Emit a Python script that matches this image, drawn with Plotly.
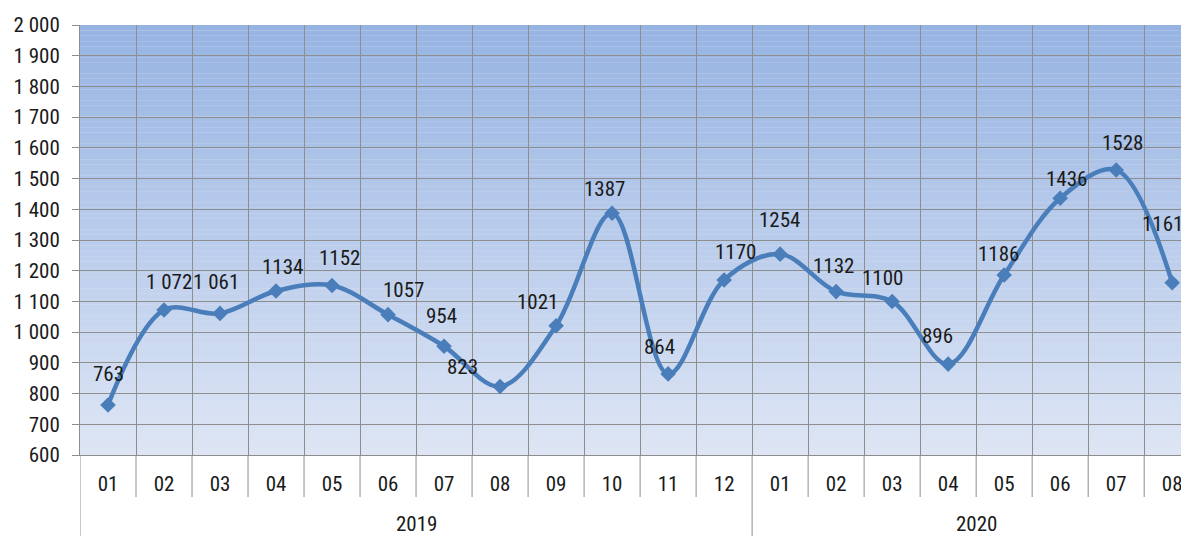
import plotly.graph_objects as go

# ---- data ----
years = ["2019"] * 12 + ["2020"] * 8
months = ["01", "02", "03", "04", "05", "06", "07", "08", "09", "10", "11", "12",
          "01", "02", "03", "04", "05", "06", "07", "08"]
values = [763, 1072, 1061, 1134, 1152, 1057, 954, 823, 1021, 1387, 864, 1170,
          1254, 1132, 1100, 896, 1186, 1436, 1528, 1161]
labels = ["763", "1 072", "1 061", "1134", "1152", "1057", "954", "823", "1021", "1387",
          "864", "1170", "1254", "1132", "1100", "896", "1186", "1436", "1528", "1161"]

# ---- label placement (style, pixel offsets) ----
label_dx = [0, 5, -4, 6, 7, 15, -3, -38, -19, -8, -9, 11, -1, -3, -10, -11, -6, 6, 6, -10]
label_dy = [31, 28, 31, 24, 27, 25, 30, 20, 24, 24, 27, 28, 34, 26, 23, 28, 21, 19, 27, 59]

# page has an 8px body margin; size the figure so the plot lands where the reference has it
W, H = 1181, 528
ML, MR, MT, MB = 72, 0, 17, 81
plot_h = H - MT - MB

LINE = "#4a7ebb"
GRID = "#8e8e8e"
TXT = "#1a1a1a"
FONT = "Roboto Condensed, Liberation Sans Narrow, Roboto"
FS = 21

xs = list(range(len(values)))

fig = go.Figure()
fig.add_trace(go.Scatter(
    x=xs, y=values,
    mode="lines+markers",
    line=dict(color=LINE, width=4.5, shape="spline", smoothing=1),
    marker=dict(symbol="diamond", size=12, color=LINE),
    hoverinfo="y", showlegend=False,
))

# gradient background of plot area
top = (150, 179, 226)
bot = (222, 230, 245)
N = 80
shapes = []
for k in range(N):
    t = (k + 0.5) / N
    c = tuple(round(bot[j] + (top[j] - bot[j]) * t) for j in range(3))
    shapes.append(dict(type="rect", xref="x domain", yref="y domain",
                       x0=0, x1=1, y0=k / N, y1=(k + 1) / N,
                       fillcolor="rgb(%d,%d,%d)" % c, line=dict(width=0),
                       layer="below"))

# separators below the axis: short between months, long between years
for i in range(len(months)):
    new_group = (i == 0) or (years[i] != years[i - 1])
    ybot = -MB / plot_h if new_group else -42 / plot_h
    shapes.append(dict(type="line", xref="x", yref="paper",
                       x0=i - 0.5, x1=i - 0.5, y0=0, y1=ybot,
                       line=dict(color=GRID, width=1)))

annotations = []
for i, (v, s) in enumerate(zip(values, labels)):
    annotations.append(dict(x=xs[i], y=v, xref="x", yref="y", text=s, showarrow=False,
                            xshift=label_dx[i], yshift=label_dy[i],
                            font=dict(family=FONT, size=FS, color=TXT)))

# year labels centred under their month groups
groups = []
for i, yv in enumerate(years):
    if not groups or groups[-1][0] != yv:
        groups.append([yv, i, i])
    else:
        groups[-1][2] = i
for yv, a, b in groups:
    annotations.append(dict(x=(a + b) / 2, y=-69 / plot_h, xref="x", yref="paper",
                            text=yv, showarrow=False, yanchor="middle",
                            font=dict(family=FONT, size=FS, color=TXT)))

fig.update_layout(
    width=W, height=H,
    margin=dict(l=ML, r=MR, t=MT, b=MB, autoexpand=False),
    paper_bgcolor="white",
    plot_bgcolor="rgb(222,230,245)",
    separators=", ",
    font=dict(family=FONT, size=FS, color=TXT),
    shapes=shapes,
    annotations=annotations,
    xaxis=dict(
        range=[-0.5, 19.3],
        tickmode="array", tickvals=xs, ticktext=months,
        showgrid=False,
        minor=dict(tickmode="linear", tick0=-0.5, dtick=1, showgrid=True,
                   gridcolor=GRID, gridwidth=1),
        showline=True, linecolor=GRID, linewidth=1,
        ticks="", zeroline=False,
        ticklabelstandoff=10,
        tickfont=dict(family=FONT, size=FS, color=TXT),
        automargin=False,
    ),
    yaxis=dict(
        range=[600, 2000], tick0=600, dtick=100,
        tickformat=",d",
        showgrid=True, gridcolor=GRID, gridwidth=1,
        showline=True, linecolor=GRID, linewidth=1,
        ticks="outside", ticklen=7, tickcolor=GRID,
        ticklabelstandoff=8,
        zeroline=False,
        tickfont=dict(family=FONT, size=FS, color=TXT),
        automargin=False,
    ),
)

fig.write_html("out.html")
